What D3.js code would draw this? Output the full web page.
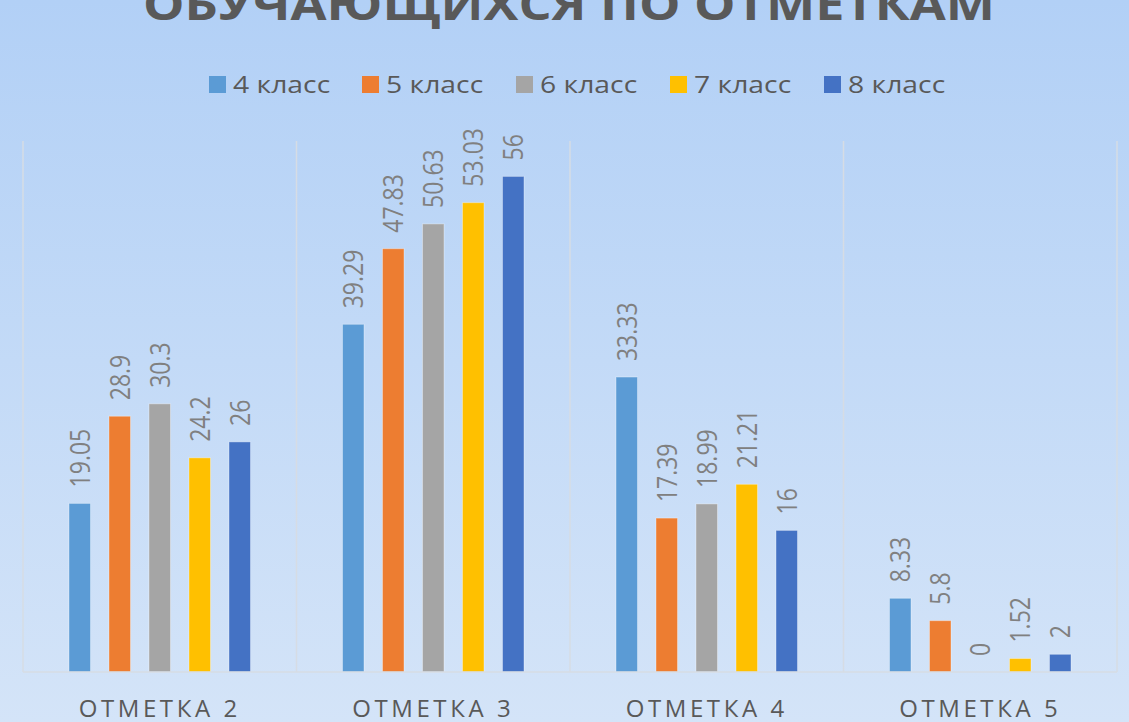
<!DOCTYPE html>
<html>
<head>
<meta charset="utf-8">
<script src="https://cdnjs.cloudflare.com/ajax/libs/d3/7.8.5/d3.min.js"></script>
<style>
  html, body { margin: 0; padding: 0; }
  body { width: 1129px; height: 722px; overflow: hidden; }
  text { font-family: "Open Sans", "Noto Sans", sans-serif; }
</style>
</head>
<body>
<script>
var w = 1129;
var h = 722;

// data
var categories = ['ОТМЕТКА 2', 'ОТМЕТКА 3', 'ОТМЕТКА 4', 'ОТМЕТКА 5'];
var seriesNames = ['4 класс', '5 класс', '6 класс', '7 класс', '8 класс'];
var grade4 = [19.05, 39.29, 33.33, 8.33];
var grade5 = [28.9, 47.83, 17.39, 5.8];
var grade6 = [30.3, 50.63, 18.99, 0];
var grade7 = [24.2, 53.03, 21.21, 1.52];
var grade8 = [26, 56, 16, 2];
var seriesValues = [grade4, grade5, grade6, grade7, grade8];
var colors = ['#5B9BD5', '#ED7D31', '#A5A5A5', '#FFC000', '#4472C4'];
var titleText = 'ОБУЧАЮЩИХСЯ ПО ОТМЕТКАМ';

// text in the picture is a bit wider than the font
var sx = 1.2;

var svg = d3.select('body').append('svg')
    .attr('width', w).attr('height', h);

// background gradient
var grad = svg.append('defs').append('linearGradient')
    .attr('id', 'bg').attr('x1', 0).attr('y1', 0).attr('x2', 0).attr('y2', 1);
grad.append('stop').attr('offset', '0%').attr('stop-color', '#b2d0f6');
grad.append('stop').attr('offset', '100%').attr('stop-color', '#d4e4f8');
svg.append('rect').attr('width', w).attr('height', h).attr('fill', 'url(#bg)');

// scales
var plotLeft = 23, plotRight = 1117, plotTop = 141, plotBottom = 672;

var x0 = d3.scaleBand().domain(categories).range([plotLeft, plotRight]);
var x1 = d3.scaleBand().domain(seriesNames).range([0, x0.bandwidth()])
    .paddingInner(0.4625).paddingOuter(1.15);
var y = d3.scaleLinear().domain([0, 60]).range([plotBottom, plotTop]);

// vertical grid lines at category borders
var borders = categories.map(function(c) { return x0(c); }).concat([plotRight]);
svg.selectAll('line.grid').data(borders).enter().append('line')
    .attr('class', 'grid')
    .attr('x1', function(d) { return d; })
    .attr('x2', function(d) { return d; })
    .attr('y1', plotTop)
    .attr('y2', plotBottom)
    .attr('stroke', '#d6dce4')
    .attr('stroke-width', 1.5);

// bars
var groups = svg.selectAll('g.cat').data(categories).enter().append('g')
    .attr('class', 'cat')
    .attr('transform', function(c) { return 'translate(' + x0(c) + ',0)'; });

groups.each(function(c, ci) {
    var g = d3.select(this);
    var rows = seriesNames.map(function(s, si) {
        return { s: s, v: seriesValues[si][ci], color: colors[si] };
    });
    g.selectAll('rect').data(rows).enter().append('rect')
        .attr('x', function(d) { return x1(d.s); })
        .attr('y', function(d) { return y(d.v); })
        .attr('width', x1.bandwidth())
        .attr('height', function(d) { return y(0) - y(d.v); })
        .attr('fill', function(d) { return d.color; })
        .attr('stroke', 'rgba(255,255,255,0.35)')
        .attr('stroke-width', 1)
        .style('display', function(d) { return d.v > 0 ? null : 'none'; });

    // value labels, rotated
    g.selectAll('text').data(rows).enter().append('text')
        .attr('transform', function(d) {
            return 'translate(' + (x1(d.s) + x1.bandwidth() / 2) + ',' + (y(d.v) - 16) + ') scale(' + sx + ',1) rotate(-90)';
        })
        .attr('dy', '0.36em')
        .attr('font-size', '23px')
        .attr('fill', '#808080')
        .text(function(d) { return d.v; });
});

// baseline
svg.append('line')
    .attr('x1', plotLeft).attr('x2', plotRight)
    .attr('y1', plotBottom).attr('y2', plotBottom)
    .attr('stroke', '#d6dce4').attr('stroke-width', 1.5);

// category axis labels
svg.selectAll('text.cat').data(categories).enter().append('text')
    .attr('class', 'cat')
    .attr('x', function(c) { return x0(c) + x0.bandwidth() / 2; })
    .attr('y', 717)
    .attr('text-anchor', 'middle')
    .attr('font-size', '24px')
    .attr('letter-spacing', '3.6px')
    .attr('fill', '#595959')
    .text(function(c) { return c; });

// legend
var legendX = [209, 362, 516, 670, 824];
var legend = svg.selectAll('g.legend').data(seriesNames).enter().append('g')
    .attr('class', 'legend')
    .attr('transform', function(d, i) { return 'translate(' + legendX[i] + ',0)'; });
legend.append('rect')
    .attr('x', 0).attr('y', 76)
    .attr('width', 17).attr('height', 17)
    .attr('fill', function(d, i) { return colors[i]; });
legend.append('text')
    .attr('transform', 'translate(24,93) scale(' + (sx - 0.02) + ',1)')
    .attr('font-size', '24px')
    .attr('fill', '#595959')
    .text(function(d) { return d; });

// title (cut at top)
svg.append('text')
    .attr('x', 143).attr('y', 20)
    .attr('textLength', 852)
    .attr('lengthAdjust', 'spacingAndGlyphs')
    .attr('font-size', '44px')
    .attr('font-weight', 'bold')
    .attr('fill', '#595959')
    .text(titleText);
</script>
</body>
</html>
